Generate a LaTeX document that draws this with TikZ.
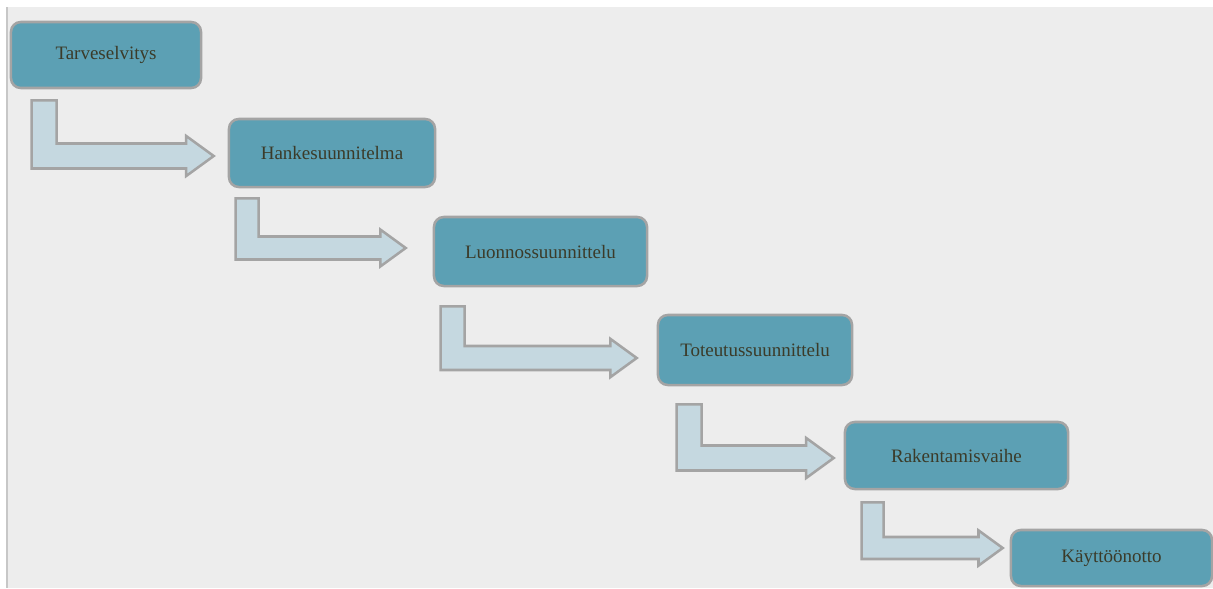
\documentclass[tikz,border=0pt]{standalone}
\usepackage{fontspec}
\setmainfont{Liberation Serif}
\usetikzlibrary{calc}

\definecolor{stagefill}{HTML}{5CA0B4}
\definecolor{stageedge}{HTML}{A4A4A4}
\definecolor{flowfill}{HTML}{C5D8E0}
\definecolor{stagetext}{HTML}{3B3B29}
\definecolor{canvas}{HTML}{EDEDED}

\begin{document}
\begin{tikzpicture}[
  x=0.025cm, y=-0.025cm,
  font=\fontsize{13.5}{16}\selectfont,
  stage/.style={draw=stageedge, fill=stagefill, line width=1.8pt, rounded corners=7pt,
    text=stagetext, inner sep=0pt, align=center},
  flow/.style={draw=stageedge, fill=flowfill, line width=1.8pt, line join=miter},
]
\useasboundingbox (0,0) rectangle (1213,588);

% --- page background with the thin left rule
\fill[canvas] (7,7) rectangle (1213,588);
\draw[black!22, line width=0.8pt] (7,7) -- (7,588);

% --- the six project phases, stepping down to the right
\node[stage, minimum width=4.75cm,  minimum height=1.65cm]  (t1) at (106,55)     {Tarveselvitys};
\node[stage, minimum width=5.15cm,  minimum height=1.7cm]   (t2) at (332,153)    {Hankesuunnitelma};
\node[stage, minimum width=5.325cm, minimum height=1.725cm] (t3) at (540.5,251.5) {Luonnossuunnittelu};
\node[stage, minimum width=4.85cm,  minimum height=1.75cm]  (t4) at (755,350)    {Toteutussuunnittelu};
\node[stage, minimum width=5.575cm, minimum height=1.675cm] (t5) at (956.5,455.5) {Rakentamisvaihe};
\node[stage, minimum width=5.025cm, minimum height=1.4cm]   (t6) at (1111.5,558) {Käyttöönotto};

% --- bent block arrows: down from one phase, then right into the next
\foreach \a/\b/\dx/\dy/\gap/\ty/\w in {
    t1/t2/22/11/14/3/25,
    t2/t3/8/10/27/-3.5/23,
    t3/t4/8/19/20/8/24,
    t4/t5/20/18/10/2.5/25,
    t5/t6/18/12/7/-10/22} {
  \coordinate (s) at ($(\a.south west)+(\dx,\dy)$);
  \coordinate (e) at ($(\b.west)+(-\gap,\ty)$);
  \coordinate (h) at ($(e)+(-1.1*\w,0)$);
  \coordinate (u) at ($(h)+(0,-0.5*\w)$);
  \coordinate (d) at ($(h)+(0,0.5*\w)$);
  \draw[flow] (s) -- ++(\w,0) |- (u) -- ++(0,-0.3*\w) -- (e)
    -- ($(d)+(0,0.3*\w)$) -- (d) -- (s |- d) -- cycle;
}

\end{tikzpicture}
\end{document}
